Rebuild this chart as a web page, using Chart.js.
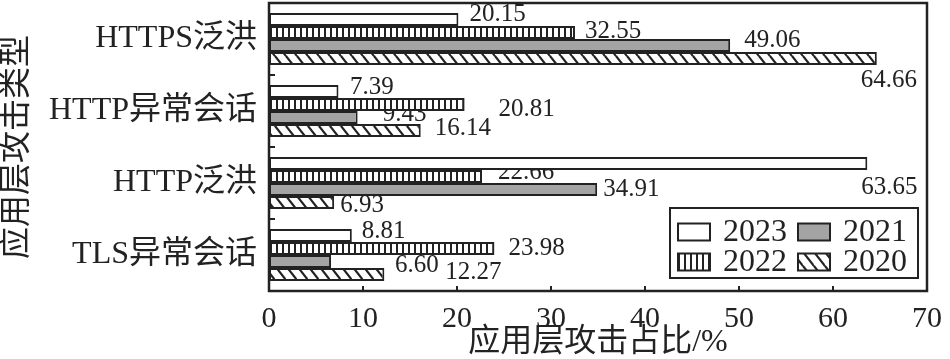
<!DOCTYPE html>
<html><head><meta charset="utf-8">
<script src="https://cdn.jsdelivr.net/npm/chart.js@4.4.0/dist/chart.umd.min.js"></script>
<style>html,body{margin:0;padding:0;background:#fff}#wrap{width:950px;height:359px}</style>
</head><body><div id="wrap"><canvas id="c" width="950" height="359"></canvas></div>
<script>
// ---------- data ----------
const categories = ['HTTPS泛洪', 'HTTP异常会话', 'HTTP泛洪', 'TLS异常会话'];
const years = ['2023', '2022', '2021', '2020'];
const v2023 = [20.15, 7.39, 63.65, 8.81];
const v2022 = [32.55, 20.81, 22.66, 23.98];
const v2021 = [49.06, 9.43, 34.91, 6.60];
const v2020 = [64.66, 16.14, 6.93, 12.27];
const xMin = 0, xMax = 70, xStep = 10;
const xTitle = '应用层攻击占比/%';
const yTitle = '应用层攻击类型';

// value-label placement (pixel offsets from bar end / bar centre), per series, per category
const labelOffsets = [
  [[11, -5], [11.5, -4], [-6, 24], [10, -4]],
  [[10, -1.5], [34, 5], [16, -4], [14, 0]],
  [[14, -5], [25, -3], [6, 0], [64, 3.5]],
  [[-16, 22], [14, -2], [6, 3], [61, -2]]
];

const SERIF = '"Liberation Serif", "Noto Sans CJK SC", serif';
const INK = '#222';

function stripePattern() {
  const c = document.createElement('canvas'); c.width = 6; c.height = 6;
  const g = c.getContext('2d');
  g.fillStyle = '#fff'; g.fillRect(0, 0, 6, 6);
  g.fillStyle = '#222'; g.fillRect(0, 0, 2, 6);
  return g.createPattern(c, 'repeat');
}
function hatchPattern() {
  const W = 11, H = 14;
  const c = document.createElement('canvas'); c.width = W; c.height = H;
  const g = c.getContext('2d');
  g.fillStyle = '#fff'; g.fillRect(0, 0, W, H);
  g.strokeStyle = '#222'; g.lineWidth = 2.2;
  for (let i = -1; i <= 1; i++) for (let j = -1; j <= 1; j++) {
    g.beginPath(); g.moveTo(i * W, j * H); g.lineTo(i * W + W, j * H + H); g.stroke();
  }
  return g.createPattern(c, 'repeat');
}

const fills = ['#ffffff', stripePattern(), '#a4a4a4', hatchPattern()];
const seriesValues = [v2023, v2022, v2021, v2020];

const datasets = years.map((y, i) => ({
  label: y,
  data: seriesValues[i],
  backgroundColor: fills[i],
  borderColor: INK,
  borderWidth: 2,
  borderSkipped: false,
  categoryPercentage: 0.72,
  barPercentage: 1.0
}));

const valueLabels = {
  id: 'valueLabels',
  beforeDatasetsDraw(chart) {
    const ctx = chart.ctx;
    ctx.save();
    ctx.font = '25px ' + SERIF;
    ctx.fillStyle = INK;
    ctx.textAlign = 'left';
    ctx.textBaseline = 'middle';
    chart.data.datasets.forEach((ds, i) => {
      const meta = chart.getDatasetMeta(i);
      meta.data.forEach((el, j) => {
        const off = labelOffsets[i][j];
        ctx.fillText(ds.data[j].toFixed(2), el.x + off[0], el.y + off[1]);
      });
    });
    ctx.restore();
  }
};

const frame = {
  id: 'frame',
  afterDraw(chart) {
    const ctx = chart.ctx, a = chart.chartArea;
    const xs = chart.scales.x, ys = chart.scales.y;
    ctx.save();
    ctx.strokeStyle = INK;
    ctx.lineWidth = 2.5;
    ctx.strokeRect(a.left, a.top, a.right - a.left, a.bottom - a.top);
    ctx.lineWidth = 2;
    ctx.beginPath();
    for (let v = xMin + xStep; v < xMax; v += xStep) {
      const px = xs.getPixelForValue(v);
      ctx.moveTo(px, a.bottom); ctx.lineTo(px, a.bottom - 5);
    }
    for (let k = 1; k < categories.length; k++) {
      const py = (ys.getPixelForValue(k - 1) + ys.getPixelForValue(k)) / 2;
      ctx.moveTo(a.left, py); ctx.lineTo(a.left + 6, py);
    }
    ctx.stroke();

    // legend (2 x 2, column-major order as in the reference)
    const order = [[0, 2], [1, 3]];
    const boxR = a.right - 9, boxB = a.bottom - 13;
    const boxW = 248, boxH = 70;
    const bx = boxR - boxW, by = boxB - boxH;
    ctx.lineWidth = 2;
    ctx.fillStyle = '#fff';
    ctx.fillRect(bx, by, boxW, boxH);
    ctx.strokeRect(bx, by, boxW, boxH);
    ctx.font = '32px ' + SERIF;
    ctx.textAlign = 'left';
    ctx.textBaseline = 'middle';
    for (let r = 0; r < 2; r++) {
      for (let c = 0; c < 2; c++) {
        const ds = chart.data.datasets[order[r][c]];
        const sx = bx + 8 + c * 120, cy = by + 24 + r * 30;
        ctx.fillStyle = ds.backgroundColor;
        ctx.fillRect(sx, cy - 8.5, 32, 17);
        ctx.lineWidth = 2;
        ctx.strokeRect(sx, cy - 8.5, 32, 17);
        ctx.fillStyle = INK;
        ctx.fillText(ds.label, sx + 45, cy + 1);
      }
    }
    ctx.restore();
  }
};

new Chart(document.getElementById('c'), {
  type: 'bar',
  data: { labels: categories, datasets },
  options: {
    indexAxis: 'y',
    responsive: false,
    animation: false,
    devicePixelRatio: 1,
    layout: { padding: { left: 0, right: 23, top: 3, bottom: 0 } },
    plugins: { legend: { display: false }, tooltip: { enabled: false } },
    scales: {
      x: {
        type: 'linear', min: xMin, max: xMax,
        grid: { display: false, drawTicks: false },
        border: { display: false },
        ticks: { stepSize: xStep, color: INK, padding: 10, font: { family: SERIF, size: 30 } },
        title: { display: true, text: xTitle, color: INK, padding: 0,
                 font: { family: SERIF, size: 32, lineHeight: 1 } },
        afterFit(s) { s.height = 68; s.paddingLeft = 0; s.paddingRight = 0; }
      },
      y: {
        type: 'category',
        grid: { display: false, drawTicks: false },
        border: { display: false },
        ticks: { color: INK, padding: 12, font: { family: SERIF, size: 32 } },
        title: { display: true, text: yTitle, color: INK, padding: { top: 2, bottom: 0 },
                 font: { family: SERIF, size: 32, lineHeight: 1 } },
        afterFit(s) { s.width = 269; s.paddingTop = 0; s.paddingBottom = 0; }
      }
    }
  },
  plugins: [valueLabels, frame]
});
</script></body></html>
